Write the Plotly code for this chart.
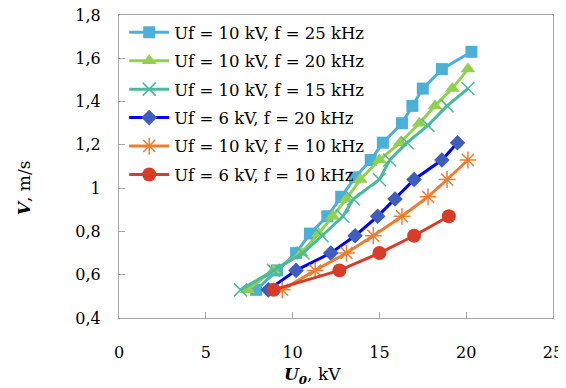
import plotly.graph_objects as go

names = [
    "Uf = 10 kV, f = 25 kHz",
    "Uf = 10 kV, f = 20 kHz",
    "Uf = 10 kV, f = 15 kHz",
    "Uf = 6 kV, f = 20 kHz",
    "Uf = 10 kV, f = 10 kHz",
    "Uf = 6 kV, f = 10 kHz",
]

u_25 = [7.9, 9.1, 10.2, 11.0, 12.0, 12.8, 13.6, 14.5, 15.2, 16.3, 16.9, 17.5, 18.6, 20.3]
v_25 = [0.53, 0.62, 0.70, 0.79, 0.87, 0.96, 1.05, 1.13, 1.21, 1.30, 1.38, 1.46, 1.55, 1.63]

u_20 = [7.4, 8.9, 10.5, 11.5, 12.3, 13.1, 13.9, 15.0, 16.2, 17.3, 18.2, 19.2, 20.1]
v_20 = [0.53, 0.62, 0.70, 0.79, 0.87, 0.95, 1.04, 1.13, 1.21, 1.30, 1.38, 1.46, 1.55]

u_15 = [7.0, 8.9, 10.6, 11.7, 12.9, 13.5, 15.0, 15.6, 16.6, 17.8, 18.9, 20.1]
v_15 = [0.53, 0.62, 0.70, 0.78, 0.87, 0.95, 1.04, 1.13, 1.21, 1.29, 1.38, 1.46]

u_6_20 = [8.6, 10.2, 12.2, 13.6, 14.9, 15.9, 17.0, 18.6, 19.5]
v_6_20 = [0.53, 0.62, 0.70, 0.78, 0.87, 0.95, 1.04, 1.13, 1.21]

u_10 = [9.4, 11.3, 13.1, 14.65, 16.3, 17.8, 18.9, 20.1]
v_10 = [0.53, 0.62, 0.70, 0.78, 0.87, 0.96, 1.04, 1.13]

u_6_10 = [8.9, 12.7, 15.0, 17.0, 19.0]
v_6_10 = [0.53, 0.62, 0.70, 0.78, 0.87]

series = [
    (u_25, v_25, "#4BB0D8", dict(symbol="square", size=12, color="#4BB0D8")),
    (u_20, v_20, "#92D050", dict(symbol="triangle-up", size=13, color="#92D050")),
    (u_15, v_15, "#4BBA9C", dict(symbol="x-thin-open", size=13, color="#4BBA9C", line=dict(width=1.5, color="#4BBA9C"))),
    (u_6_20, v_6_20, "#0000FF", dict(symbol="diamond", size=12, color="#3F5DBB")),
    (u_10, v_10, "#ED7D31", dict(symbol="asterisk-open", size=14, color="#ED7D31", line=dict(width=1.5, color="#ED7D31"))),
    (u_6_10, v_6_10, "#D83B27", dict(symbol="circle", size=14, color="#D83B27")),
]

fig = go.Figure()
for i, (x, y, lc, mk) in enumerate(series):
    fig.add_trace(go.Scatter(
        x=x, y=y, mode="lines+markers", name=names[i],
        line=dict(color=lc, width=3), marker=mk, legendgroup=f"g{i}",
    ))

font_family = "DejaVu Serif"
axis_common = dict(
    showline=True, linecolor="#A6A6A6", linewidth=1, mirror=True,
    ticks="inside", ticklen=6, tickcolor="#A6A6A6", showgrid=False, zeroline=False,
    automargin=False, ticklabeloverflow="allow",
    tickfont=dict(family=font_family, size=16, color="#000"),
)

# page body has an 8px margin, so the figure is 8px smaller and shifted
fig.update_layout(
    width=558, height=380,
    margin=dict(l=111, r=13, t=7, b=70),
    paper_bgcolor="white", plot_bgcolor="white",
    separators=",.",
    showlegend=True,
    legend=dict(x=0.012, y=1.0, xanchor="left", yanchor="top", itemwidth=40,
                font=dict(family=font_family, size=16.5, color="#000"),
                bgcolor="rgba(255,255,255,0)", tracegroupgap=4),
    xaxis=dict(range=[0, 25], dtick=5, ticklabelstandoff=20, **axis_common),
    yaxis=dict(range=[0.4, 1.8], dtick=0.2, tickformat="~r", ticklabelstandoff=14, **axis_common),
    annotations=[
        dict(text="<b><i>U<sub>0</sub></i></b>, kV", xref="paper", yref="paper",
             x=0.445, y=-0.19, xanchor="center", yanchor="middle", showarrow=False,
             font=dict(family=font_family, size=17, color="#000")),
        dict(text="<b><i>V</i></b>, m/s", xref="paper", yref="paper",
             x=-0.22, y=0.43, xanchor="center", yanchor="middle", showarrow=False, textangle=-90,
             font=dict(family=font_family, size=17, color="#000")),
    ],
)

fig.write_html("out.html")
